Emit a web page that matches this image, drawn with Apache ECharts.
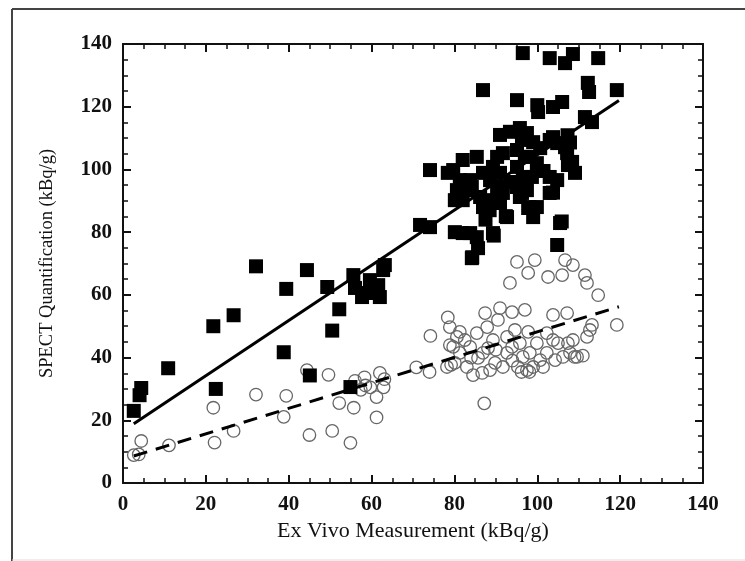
<!DOCTYPE html>
<html>
<head>
<meta charset="utf-8">
<script src="https://cdn.jsdelivr.net/npm/echarts@6/dist/echarts.min.js"></script>
<style>
  html, body { margin: 0; padding: 0; background: #fff; }
  #chart { width: 745px; height: 561px; }
</style>
</head>
<body>
<div id="chart"></div>
<script>
// filled squares (x, y)
var squareData = [
  [2.6, 23], [4.0, 28], [4.4, 30.3], [10.9, 36.6], [21.8, 50], [22.4, 30], [26.7, 53.5],
  [32.1, 69.1], [38.8, 41.7], [39.4, 61.9], [44.4, 67.9], [45.1, 34.3], [49.3, 62.5],
  [50.5, 48.6], [52.2, 55.4], [54.9, 30.6], [55.6, 66.3], [56, 62.2], [57.7, 59.3],
  [58.9, 60.6], [59.6, 64.7], [60.4, 62.2], [61.6, 63.1], [62, 59.3], [62.8, 67.9],
  [63.2, 69.5], [71.7, 82.3], [74.1, 81.6], [74.1, 99.8], [78.4, 98.9],
  [80.1, 80], [82, 79.7], [83.8, 79.7], [85.4, 78.4], [84.2, 71.7], [85.7, 74.9],
  [89.3, 79.7], [92.7, 84.8], [86.9, 125.3], [95.1, 122.1], [96.5, 137.1],
  [100, 120.5], [100.2, 118.3], [103.8, 119.9], [106, 121.5], [103, 135.5],
  [106.7, 133.9], [108.6, 136.8], [114.7, 135.5], [112.2, 127.6], [112.5, 124.7],
  [119.2, 125.3], [111.5, 116.7], [113.2, 115.1], [91, 111], [93.4, 112],
  [95.8, 113.2], [97.5, 111.6], [96.3, 109.4], [99, 108.7], [100.7, 106.8],
  [98.2, 104], [99.9, 102], [103, 109.4], [104.8, 108.4], [106.7, 107.1],
  [107.2, 105.2], [108.4, 102.4], [90.3, 104], [91.7, 105.2], [95.1, 106.2],
  [82, 103], [79.7, 99.8], [85.4, 104], [81.3, 96.6], [83, 93.4], [80.6, 93.4],
  [82, 90.2], [80.1, 90.2], [83.8, 96.6], [86.9, 98.9], [89.3, 100.8], [91, 98.9],
  [88.6, 96.6], [90.3, 94.4], [91.7, 92.5], [89.3, 90.2], [91, 89.3], [95.1, 100.8],
  [96.5, 97.6], [95.1, 94.4], [97.5, 93.4], [95.8, 91.2], [98.2, 88], [103, 97.6],
  [104.8, 96.6], [103, 92.5], [107.4, 101.4], [109.1, 98.9], [86.2, 91.2],
  [86.9, 88], [84.2, 94.4], [99.9, 88], [99, 84.8], [98.7, 97.6], [96.3, 92.5],
  [97.8, 87.7], [105.5, 82.9], [104.8, 75.9], [92.4, 85.1], [84.3, 72],
  [89.5, 78.9], [103.8, 92.6], [105.9, 83.4], [107.9, 108.6], [107.3, 110.9],
  [103.8, 110.3], [87.5, 84], [88.5, 87], [93.5, 96], [101.5, 99.5], [97, 104]
];

// open circles (x, y)
var circleData = [
  [2.6, 8.9], [3.8, 9.1], [4.4, 13.4], [11.1, 12], [21.8, 24], [22.1, 12.9], [26.7, 16.6],
  [32.1, 28.2], [38.8, 21.1], [39.4, 27.8], [44.4, 36], [45, 15.3], [49.6, 34.5],
  [50.5, 16.6], [52.2, 25.5], [54.9, 12.8], [55.7, 24], [56, 32.6], [57.4, 29.7],
  [58.5, 31.1], [59.7, 30.5], [58.3, 33.7], [61.2, 20.9], [61.2, 27.4], [62, 35.1],
  [62.9, 30.5], [63.1, 33.1], [70.8, 36.9], [74, 35.4], [74.2, 46.9], [78.4, 52.8],
  [79.2, 37.7], [87.2, 25.4], [95.1, 70.5], [99.4, 71.1], [106.7, 71.1], [108.6, 69.5],
  [97.8, 67], [102.6, 65.7], [106, 66.3], [111.5, 66.3], [112, 63.8], [114.7, 59.9],
  [93.4, 63.8], [87.4, 54.2], [91, 55.8], [93.9, 54.5], [97, 55.2], [103.8, 53.6],
  [107.2, 54.2], [113.2, 50.4], [112.7, 48.8], [112, 46.6], [119.2, 50.4],
  [78.9, 49.7], [80.6, 46.6], [79.7, 43.4], [81.3, 41.5], [80.1, 38.3], [83, 37],
  [84.5, 34.4], [86.7, 35.1], [83.8, 43.4], [85.4, 47.8], [87.9, 49.7], [86.9, 41.5],
  [89.3, 45.6], [90.5, 52], [89.8, 38.3], [92.7, 41.5], [92.7, 46.6], [94.6, 48.8],
  [95.8, 44.6], [95.3, 37], [97.5, 36], [98.2, 41.5], [99.9, 44.6], [100.7, 39.2],
  [102.3, 41.5], [103.8, 45.6], [105, 44.6], [104.3, 39.2], [106.2, 40.2], [107.9, 41.5],
  [107.4, 44.6], [108.6, 45.6], [109.6, 40.2], [102.3, 47.8], [97.8, 48.2], [88.6, 36],
  [81.3, 48.2], [82.5, 45.6], [85.7, 39.9], [91.7, 37], [93.9, 43.4], [99, 37],
  [101.4, 37], [96.5, 40.2], [88.1, 43], [78.9, 44], [78.2, 37], [96.2, 35.4],
  [98.1, 35.4], [109, 40.2], [111, 40.6], [84, 40], [90, 42.5], [94, 39]
];

// regression lines (end points)
var solidFit = [[2.6, 18.9], [119.7, 122]];
var dashedFit = [[2.6, 8.6], [119.7, 56.2]];

var axisTicks = { min: 0, max: 140, interval: 20 };

var serif = 'Liberation Serif';
var chart = echarts.init(document.getElementById('chart'));

function frameAxis(pos, showLabel, extra) {
  var a = {
    type: 'value',
    position: pos,
    min: axisTicks.min,
    max: axisTicks.max,
    interval: axisTicks.interval,
    axisLine: { show: true, onZero: false, lineStyle: { color: '#111', width: 2 } },
    axisTick: { show: true, inside: true, length: 8, lineStyle: { color: '#111', width: 2 } },
    minorTick: { show: true, splitNumber: 4, length: 5, lineStyle: { color: '#111', width: 1.5 } },
    splitLine: { show: false },
    axisLabel: {
      show: showLabel,
      color: '#111',
      fontFamily: serif,
      fontSize: 21,
      fontWeight: 'bold',
      margin: 11
    }
  };
  return Object.assign(a, extra || {});
}

chart.setOption({
  backgroundColor: '#fff',
  animation: false,
  grid: { left: 123, right: 42, top: 44, bottom: 78 },
  graphic: [
    { type: 'line', shape: { x1: 12, y1: 9, x2: 12, y2: 561 }, style: { stroke: '#444', lineWidth: 2 } },
    { type: 'line', shape: { x1: 12, y1: 9, x2: 745, y2: 9 }, style: { stroke: '#444', lineWidth: 2 } },
    { type: 'line', shape: { x1: 12, y1: 560, x2: 745, y2: 560 }, style: { stroke: '#ddd', lineWidth: 1 } }
  ],
  xAxis: [
    frameAxis('bottom', true, {
      name: 'Ex Vivo Measurement (kBq/g)',
      nameLocation: 'middle',
      nameGap: 31,
      nameTextStyle: { color: '#111', fontFamily: serif, fontSize: 22 }
    }),
    frameAxis('top', false)
  ],
  yAxis: [
    frameAxis('left', true, {
      name: 'SPECT Quantification (kBq/g)',
      nameLocation: 'middle',
      nameGap: 66,
      nameTextStyle: { color: '#111', fontFamily: serif, fontSize: 18.5 }
    }),
    frameAxis('right', false)
  ],
  series: [
    {
      type: 'scatter',
      data: circleData,
      symbol: 'circle',
      symbolSize: 12.5,
      itemStyle: { color: 'rgba(255,255,255,0)', borderColor: '#666', borderWidth: 1.3, opacity: 1 },
      z: 2
    },
    {
      type: 'scatter',
      data: squareData,
      symbol: 'rect',
      symbolSize: 14,
      itemStyle: { color: '#000', opacity: 1 },
      z: 3
    },
    {
      type: 'line',
      data: solidFit,
      symbol: 'none',
      lineStyle: { color: '#000', width: 3 },
      z: 4
    },
    {
      type: 'line',
      data: dashedFit,
      symbol: 'none',
      lineStyle: { color: '#000', width: 3, type: [14, 9] },
      z: 4
    }
  ]
});
</script>
</body>
</html>
